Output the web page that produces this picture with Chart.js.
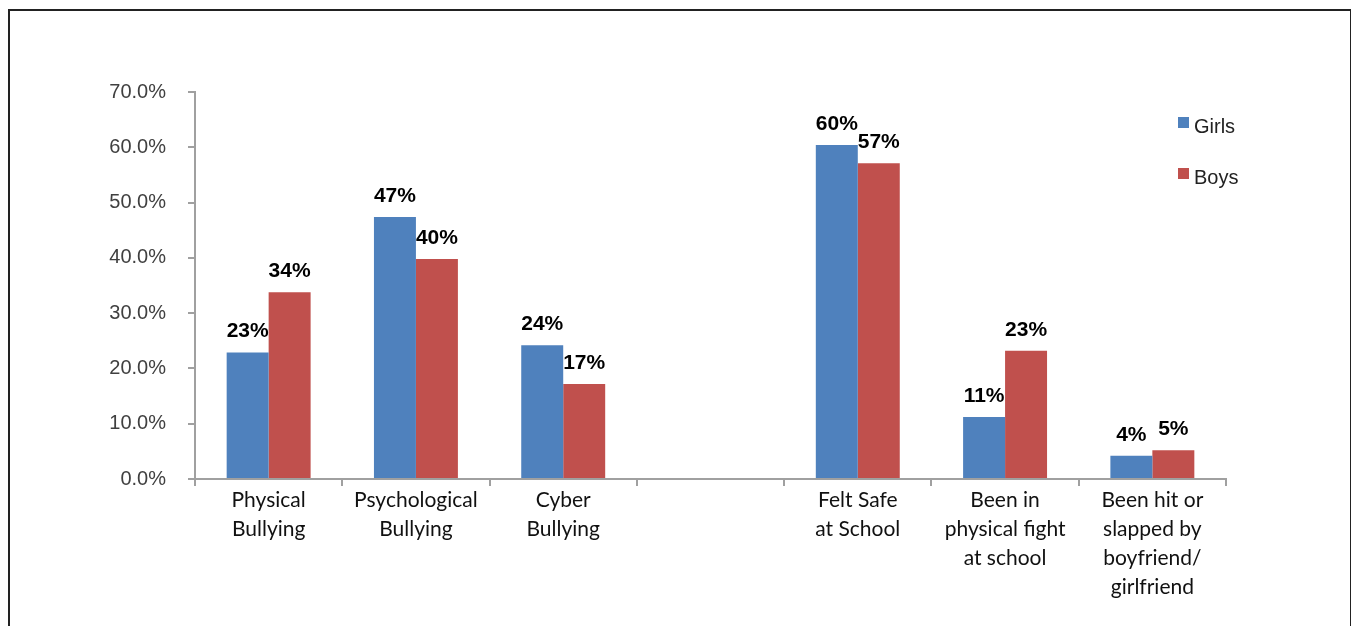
<!DOCTYPE html>
<html>
<head>
<meta charset="utf-8">
<script src="https://cdn.jsdelivr.net/npm/chart.js@4/dist/chart.umd.min.js"></script>
<style>
  html, body { margin: 0; padding: 0; background: #fff; overflow: hidden; }
  #wrap { position: relative; width: 1351px; height: 626px; }
  #frame { position: absolute; left: 8px; top: 9px; width: 1340px; height: 700px;
           border: 2px solid #222; pointer-events: none; }
  canvas { position: absolute; left: 0; top: 0; }
</style>
</head>
<body>
<div id="wrap">
  <canvas id="chart" width="1351" height="626"></canvas>
  <div id="frame"></div>
</div>
<script>
// Categories (empty slot in the middle separates the two groups)
const categories = [
  ["Physical", "Bullying"],
  ["Psychological", "Bullying"],
  ["Cyber", "Bullying"],
  "",
  ["Felt Safe", "at School"],
  ["Been in", "physical fight", "at school"],
  ["Been hit or", "slapped by", "boyfriend/", "girlfriend"]
];

// Series values in percent
const girls = [22.9, 47.4, 24.2, null, 60.4, 11.2, 4.2];
const boys  = [33.8, 39.8, 17.2, null, 57.1, 23.2, 5.2];

const seriesNames = ["Girls", "Boys"];
const seriesColors = ["#4F81BD", "#C0504D"];

// Y axis ticks
const yMin = 0;
const yMax = 70;
const yStep = 10;

// Bold value labels above each bar
const valueLabels = {
  id: "valueLabels",
  afterDatasetsDraw(chart) {
    const ctx = chart.ctx;
    ctx.save();
    ctx.font = "bold 21px 'Liberation Sans', Arial, sans-serif";
    ctx.fillStyle = "#000";
    ctx.textAlign = "center";
    ctx.textBaseline = "alphabetic";
    chart.data.datasets.forEach((ds, i) => {
      const meta = chart.getDatasetMeta(i);
      meta.data.forEach((bar, j) => {
        const v = ds.data[j];
        if (v == null) return;
        ctx.fillText(Math.round(v) + "%", bar.x, bar.y - 15);
      });
    });
    ctx.restore();
  }
};

// Legend drawn at the top right, overlapping the plot's right end
const sideLegend = {
  id: "sideLegend",
  afterDraw(chart) {
    const ctx = chart.ctx;
    ctx.save();
    ctx.font = "20px 'Liberation Sans', Arial, sans-serif";
    ctx.textBaseline = "alphabetic";
    ctx.textAlign = "left";
    chart.data.datasets.forEach((ds, i) => {
      const y = 133 + i * 51;
      ctx.fillStyle = ds.backgroundColor;
      ctx.fillRect(1178, y - 16, 11, 11);
      ctx.fillStyle = "#222";
      ctx.fillText(ds.label, 1194, y);
    });
    ctx.restore();
  }
};

const ctx = document.getElementById("chart");

new Chart(ctx, {
  type: "bar",
  data: {
    labels: categories,
    datasets: [
      { label: seriesNames[0], data: girls, backgroundColor: seriesColors[0] },
      { label: seriesNames[1], data: boys, backgroundColor: seriesColors[1] }
    ]
  },
  options: {
    responsive: false,
    animation: false,
    layout: { padding: { top: 92, right: 125, left: 0, bottom: 0 } },
    datasets: {
      bar: { categoryPercentage: 0.57, barPercentage: 1.0 }
    },
    plugins: {
      legend: { display: false },
      tooltip: { enabled: false }
    },
    scales: {
      x: {
        grid: {
          display: true,
          drawOnChartArea: false,
          drawTicks: true,
          tickLength: 7,
          color: "#A0A0A0",
          lineWidth: 2
        },
        border: { display: true, color: "#A0A0A0", width: 2 },
        ticks: {
          color: "#111",
          font: { family: "Lato, 'Open Sans', sans-serif", size: 21, lineHeight: 1.38 },
          padding: 0,
          maxRotation: 0,
          autoSkip: false
        },
        afterFit(scale) { scale.height = 147; }
      },
      y: {
        min: yMin,
        max: yMax,
        grid: {
          display: true,
          drawOnChartArea: false,
          drawTicks: true,
          tickLength: 7,
          color: "#A0A0A0",
          lineWidth: 2
        },
        border: { display: true, color: "#A0A0A0", width: 2 },
        ticks: {
          stepSize: yStep,
          color: "#404040",
          padding: 22,
          font: { family: "'Liberation Sans', Arial, sans-serif", size: 20 },
          callback: (v) => v.toFixed(1) + "%"
        },
        afterFit(scale) { scale.width = 195; }
      }
    }
  },
  plugins: [valueLabels, sideLegend]
});
</script>
</body>
</html>
